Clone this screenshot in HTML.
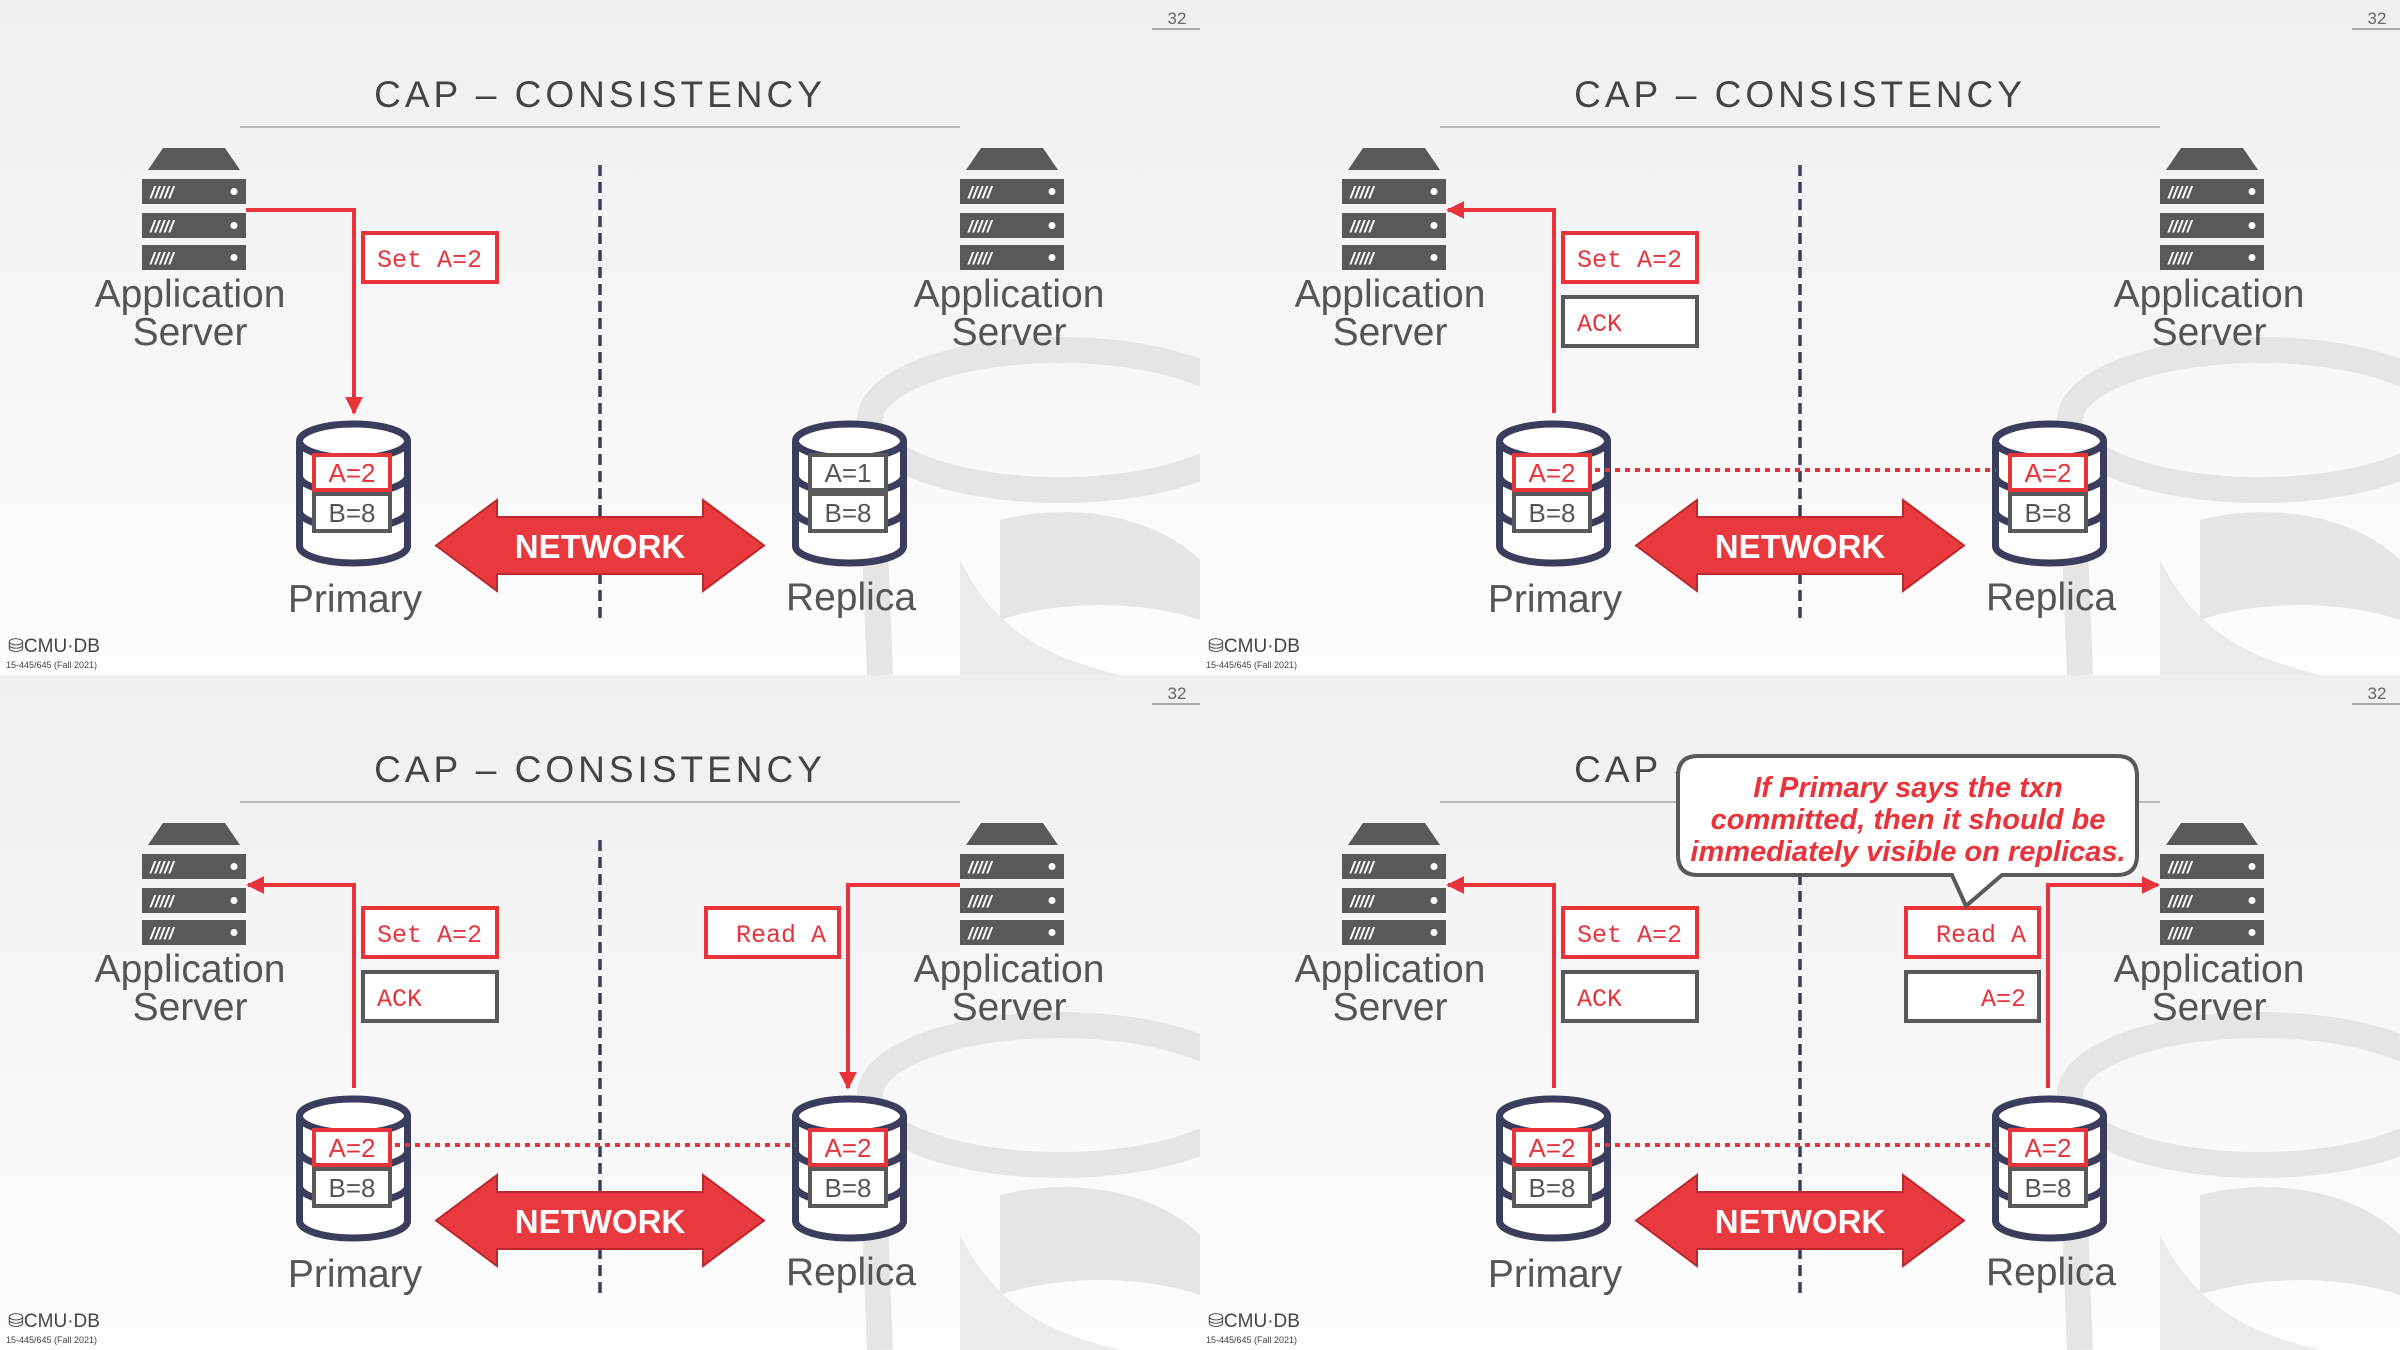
<!DOCTYPE html>
<html><head><meta charset="utf-8"><style>
html,body{margin:0;padding:0;background:#fff;}
svg{display:block;}
.ttl{font-family:"Liberation Sans",sans-serif;font-size:37px;fill:#444;letter-spacing:4px;}
.lbl{font-family:"Liberation Sans",sans-serif;font-size:39px;fill:#555;}
.mono{font-family:"Liberation Mono",monospace;font-size:25px;fill:#e8333a;}
.dbt{font-family:"Liberation Sans",sans-serif;font-size:26px;fill:#555;}
.net{font-family:"Liberation Sans",sans-serif;font-size:33px;font-weight:bold;fill:#fff;}
.pg{font-family:"Liberation Sans",sans-serif;font-size:17px;fill:#666;}
.cmu{font-family:"Liberation Sans",sans-serif;font-size:19px;fill:#444;}
.sm{font-family:"Liberation Sans",sans-serif;font-size:9px;fill:#444;}
.call{font-family:"Liberation Sans",sans-serif;font-size:29px;font-weight:bold;font-style:italic;fill:#e8333a;}
</style></head><body>
<svg width="2400" height="1350" viewBox="0 0 2400 1350" xmlns="http://www.w3.org/2000/svg">
<defs>
<linearGradient id="bg" x1="0" y1="0" x2="0" y2="1"><stop offset="0" stop-color="#efefef"/><stop offset="1" stop-color="#fdfdfd"/></linearGradient>
<marker id="ah2" viewBox="0 0 10 10" markerWidth="18" markerHeight="18" refX="9" refY="5" orient="auto" markerUnits="userSpaceOnUse"><path d="M0,0 L10,5 L0,10Z" fill="#e8333a"/></marker>
<g id="wm">
<ellipse cx="1060" cy="420" rx="190" ry="70" fill="none" stroke="#e5e5e5" stroke-width="26"/>
<path d="M870,420 L880,675" stroke="#e5e5e5" stroke-width="26" fill="none"/>
<path d="M1000,520 C1080,500 1160,520 1200,560 L1200,620 C1140,600 1060,600 1000,620 Z" fill="#e5e5e5"/>
<path d="M960,560 C1000,640 1060,660 1120,675 L960,675 Z" fill="#ebebeb"/>
</g>
<g id="srv">
<polygon points="21,0 83,0 98,22 6,22" fill="#595959"/>
<rect x="0" y="31" width="104" height="25" fill="#595959"/>
<rect x="0" y="65" width="104" height="25" fill="#595959"/>
<rect x="0" y="97" width="104" height="25" fill="#595959"/>
<text x="8" y="50" font-family="Liberation Sans" font-size="17" font-weight="bold" font-style="italic" fill="#fff">/////</text>
<text x="8" y="84" font-family="Liberation Sans" font-size="17" font-weight="bold" font-style="italic" fill="#fff">/////</text>
<text x="8" y="116" font-family="Liberation Sans" font-size="17" font-weight="bold" font-style="italic" fill="#fff">/////</text>
<circle cx="92" cy="43.5" r="3.5" fill="#fff"/><circle cx="92" cy="77.5" r="3.5" fill="#fff"/><circle cx="92" cy="109.5" r="3.5" fill="#fff"/>
</g>
<g id="db" fill="none" stroke="#3a3d5c" stroke-width="7">
<path d="M5.5,20 L5.5,125 A54,17 0 0 0 113.5,125 L113.5,20" fill="#fff"/>
<ellipse cx="59.5" cy="20" rx="54" ry="17" fill="#fff"/>
<path d="M5.5,55 A54,17 0 0 0 113.5,55"/>
<path d="M5.5,90 A54,17 0 0 0 113.5,90"/>
</g>
<g id="net">
<polygon points="436,545.5 497,500 497,517 703,517 703,500 764,545.5 703,591 703,574 497,574 497,591" fill="#e8393e" stroke="#b8292e" stroke-width="2"/>
</g>
<g id="base">
<rect x="0" y="0" width="1200" height="675" fill="url(#bg)"/>
<use href="#wm"/>
<line x1="1152" y1="29" x2="1200" y2="29" stroke="#aaa" stroke-width="2"/>
<line x1="240" y1="127" x2="960" y2="127" stroke="#bbb" stroke-width="2"/>
<line x1="600" y1="165" x2="600" y2="620" stroke="#3a3d5c" stroke-width="3.5" stroke-dasharray="11 6"/>
<use href="#srv" x="142" y="148"/>
<use href="#srv" x="960" y="148"/>
<use href="#db" x="294" y="421"/>
<use href="#db" x="790" y="421"/>
<use href="#net"/>
</g>
</defs>

<!-- Panel 1 -->
<g transform="translate(0,0)">
<use href="#base"/>
<text x="1177" y="24" class="pg" text-anchor="middle">32</text>
<text x="600" y="107" class="ttl" text-anchor="middle">CAP – CONSISTENCY</text>
<text x="190" y="307" class="lbl" text-anchor="middle">Application</text>
<text x="190" y="345" class="lbl" text-anchor="middle">Server</text>
<text x="1009" y="307" class="lbl" text-anchor="middle">Application</text>
<text x="1009" y="345" class="lbl" text-anchor="middle">Server</text>
<text x="355" y="612" class="lbl" text-anchor="middle">Primary</text>
<text x="851" y="610" class="lbl" text-anchor="middle">Replica</text>
<text x="600" y="558" class="net" text-anchor="middle">NETWORK</text>
<rect x="314" y="455" width="76" height="35" fill="#fff" stroke="#e8333a" stroke-width="4"/><text x="352" y="482" class="dbt" text-anchor="middle" style="fill:#e8333a">A=2</text>
<rect x="314" y="494" width="76" height="37" fill="#fff" stroke="#595959" stroke-width="4"/><text x="352" y="522" class="dbt" text-anchor="middle">B=8</text>
<rect x="810" y="455" width="76" height="35" fill="#fff" stroke="#595959" stroke-width="4"/><text x="848" y="482" class="dbt" text-anchor="middle">A=1</text>
<rect x="810" y="494" width="76" height="37" fill="#fff" stroke="#595959" stroke-width="4"/><text x="848" y="522" class="dbt" text-anchor="middle">B=8</text>
<path d="M246,210 L354,210 L354,413" fill="none" stroke="#e8333a" stroke-width="4" marker-end="url(#ah2)"/>
<rect x="363" y="233" width="134" height="49" fill="#fff" stroke="#e8333a" stroke-width="4"/><text x="377" y="267" class="mono">Set A=2</text>
<text x="8" y="652" class="cmu">⛁CMU·DB</text><text x="6" y="668" class="sm">15-445/645 (Fall 2021)</text>
</g>

<!-- Panel 2 -->
<g transform="translate(1200,0)">
<use href="#base"/>
<text x="1177" y="24" class="pg" text-anchor="middle">32</text>
<text x="600" y="107" class="ttl" text-anchor="middle">CAP – CONSISTENCY</text>
<text x="190" y="307" class="lbl" text-anchor="middle">Application</text>
<text x="190" y="345" class="lbl" text-anchor="middle">Server</text>
<text x="1009" y="307" class="lbl" text-anchor="middle">Application</text>
<text x="1009" y="345" class="lbl" text-anchor="middle">Server</text>
<text x="355" y="612" class="lbl" text-anchor="middle">Primary</text>
<text x="851" y="610" class="lbl" text-anchor="middle">Replica</text>
<text x="600" y="558" class="net" text-anchor="middle">NETWORK</text>
<line x1="395" y1="470" x2="796" y2="470" stroke="#e8333a" stroke-width="4" stroke-dasharray="5 5"/>
<rect x="314" y="455" width="76" height="35" fill="#fff" stroke="#e8333a" stroke-width="4"/><text x="352" y="482" class="dbt" text-anchor="middle" style="fill:#e8333a">A=2</text>
<rect x="314" y="494" width="76" height="37" fill="#fff" stroke="#595959" stroke-width="4"/><text x="352" y="522" class="dbt" text-anchor="middle">B=8</text>
<rect x="810" y="455" width="76" height="35" fill="#fff" stroke="#e8333a" stroke-width="4"/><text x="848" y="482" class="dbt" text-anchor="middle" style="fill:#e8333a">A=2</text>
<rect x="810" y="494" width="76" height="37" fill="#fff" stroke="#595959" stroke-width="4"/><text x="848" y="522" class="dbt" text-anchor="middle">B=8</text>
<path d="M354,413 L354,210 L248,210" fill="none" stroke="#e8333a" stroke-width="4" marker-end="url(#ah2)"/>
<rect x="363" y="233" width="134" height="49" fill="#fff" stroke="#e8333a" stroke-width="4"/><text x="377" y="267" class="mono">Set A=2</text>
<rect x="363" y="297" width="134" height="49" fill="#fff" stroke="#595959" stroke-width="4"/><text x="377" y="331" class="mono">ACK</text>
<text x="8" y="652" class="cmu">⛁CMU·DB</text><text x="6" y="668" class="sm">15-445/645 (Fall 2021)</text>
</g>

<!-- Panel 3 -->
<g transform="translate(0,675)">
<use href="#base"/>
<text x="1177" y="24" class="pg" text-anchor="middle">32</text>
<text x="600" y="107" class="ttl" text-anchor="middle">CAP – CONSISTENCY</text>
<text x="190" y="307" class="lbl" text-anchor="middle">Application</text>
<text x="190" y="345" class="lbl" text-anchor="middle">Server</text>
<text x="1009" y="307" class="lbl" text-anchor="middle">Application</text>
<text x="1009" y="345" class="lbl" text-anchor="middle">Server</text>
<text x="355" y="612" class="lbl" text-anchor="middle">Primary</text>
<text x="851" y="610" class="lbl" text-anchor="middle">Replica</text>
<text x="600" y="558" class="net" text-anchor="middle">NETWORK</text>
<line x1="395" y1="470" x2="796" y2="470" stroke="#e8333a" stroke-width="4" stroke-dasharray="5 5"/>
<rect x="314" y="455" width="76" height="35" fill="#fff" stroke="#e8333a" stroke-width="4"/><text x="352" y="482" class="dbt" text-anchor="middle" style="fill:#e8333a">A=2</text>
<rect x="314" y="494" width="76" height="37" fill="#fff" stroke="#595959" stroke-width="4"/><text x="352" y="522" class="dbt" text-anchor="middle">B=8</text>
<rect x="810" y="455" width="76" height="35" fill="#fff" stroke="#e8333a" stroke-width="4"/><text x="848" y="482" class="dbt" text-anchor="middle" style="fill:#e8333a">A=2</text>
<rect x="810" y="494" width="76" height="37" fill="#fff" stroke="#595959" stroke-width="4"/><text x="848" y="522" class="dbt" text-anchor="middle">B=8</text>
<path d="M354,413 L354,210 L248,210" fill="none" stroke="#e8333a" stroke-width="4" marker-end="url(#ah2)"/>
<path d="M960,210 L848,210 L848,413" fill="none" stroke="#e8333a" stroke-width="4" marker-end="url(#ah2)"/>
<rect x="363" y="233" width="134" height="49" fill="#fff" stroke="#e8333a" stroke-width="4"/><text x="377" y="267" class="mono">Set A=2</text>
<rect x="363" y="297" width="134" height="49" fill="#fff" stroke="#595959" stroke-width="4"/><text x="377" y="331" class="mono">ACK</text>
<rect x="706" y="233" width="133" height="49" fill="#fff" stroke="#e8333a" stroke-width="4"/><text x="826" y="267" class="mono" text-anchor="end">Read A</text>
<text x="8" y="652" class="cmu">⛁CMU·DB</text><text x="6" y="668" class="sm">15-445/645 (Fall 2021)</text>
</g>

<!-- Panel 4 -->
<g transform="translate(1200,675)">
<use href="#base"/>
<text x="1177" y="24" class="pg" text-anchor="middle">32</text>
<text x="600" y="107" class="ttl" text-anchor="middle">CAP – CONSISTENCY</text>
<text x="190" y="307" class="lbl" text-anchor="middle">Application</text>
<text x="190" y="345" class="lbl" text-anchor="middle">Server</text>
<text x="1009" y="307" class="lbl" text-anchor="middle">Application</text>
<text x="1009" y="345" class="lbl" text-anchor="middle">Server</text>
<text x="355" y="612" class="lbl" text-anchor="middle">Primary</text>
<text x="851" y="610" class="lbl" text-anchor="middle">Replica</text>
<text x="600" y="558" class="net" text-anchor="middle">NETWORK</text>
<line x1="395" y1="470" x2="796" y2="470" stroke="#e8333a" stroke-width="4" stroke-dasharray="5 5"/>
<rect x="314" y="455" width="76" height="35" fill="#fff" stroke="#e8333a" stroke-width="4"/><text x="352" y="482" class="dbt" text-anchor="middle" style="fill:#e8333a">A=2</text>
<rect x="314" y="494" width="76" height="37" fill="#fff" stroke="#595959" stroke-width="4"/><text x="352" y="522" class="dbt" text-anchor="middle">B=8</text>
<rect x="810" y="455" width="76" height="35" fill="#fff" stroke="#e8333a" stroke-width="4"/><text x="848" y="482" class="dbt" text-anchor="middle" style="fill:#e8333a">A=2</text>
<rect x="810" y="494" width="76" height="37" fill="#fff" stroke="#595959" stroke-width="4"/><text x="848" y="522" class="dbt" text-anchor="middle">B=8</text>
<path d="M354,413 L354,210 L248,210" fill="none" stroke="#e8333a" stroke-width="4" marker-end="url(#ah2)"/>
<path d="M848,413 L848,210 L958,210" fill="none" stroke="#e8333a" stroke-width="4" marker-end="url(#ah2)"/>
<rect x="363" y="233" width="134" height="49" fill="#fff" stroke="#e8333a" stroke-width="4"/><text x="377" y="267" class="mono">Set A=2</text>
<rect x="363" y="297" width="134" height="49" fill="#fff" stroke="#595959" stroke-width="4"/><text x="377" y="331" class="mono">ACK</text>
<rect x="706" y="233" width="133" height="49" fill="#fff" stroke="#e8333a" stroke-width="4"/><text x="826" y="267" class="mono" text-anchor="end">Read A</text>
<rect x="706" y="297" width="133" height="49" fill="#fff" stroke="#595959" stroke-width="4"/><text x="826" y="331" class="mono" text-anchor="end">A=2</text>
<path d="M498,81 L917,81 Q937,81 937,101 L937,180 Q937,200 917,200 L802,200 L766,231 L752,200 L498,200 Q478,200 478,180 L478,101 Q478,81 498,81 Z" fill="#fff" stroke="#595959" stroke-width="4"/>
<text x="708" y="122" class="call" text-anchor="middle">If Primary says the txn</text>
<text x="708" y="154" class="call" text-anchor="middle">committed, then it should be</text>
<text x="708" y="186" class="call" text-anchor="middle">immediately visible on replicas.</text>
<text x="8" y="652" class="cmu">⛁CMU·DB</text><text x="6" y="668" class="sm">15-445/645 (Fall 2021)</text>
</g>
</svg>
</body></html>
